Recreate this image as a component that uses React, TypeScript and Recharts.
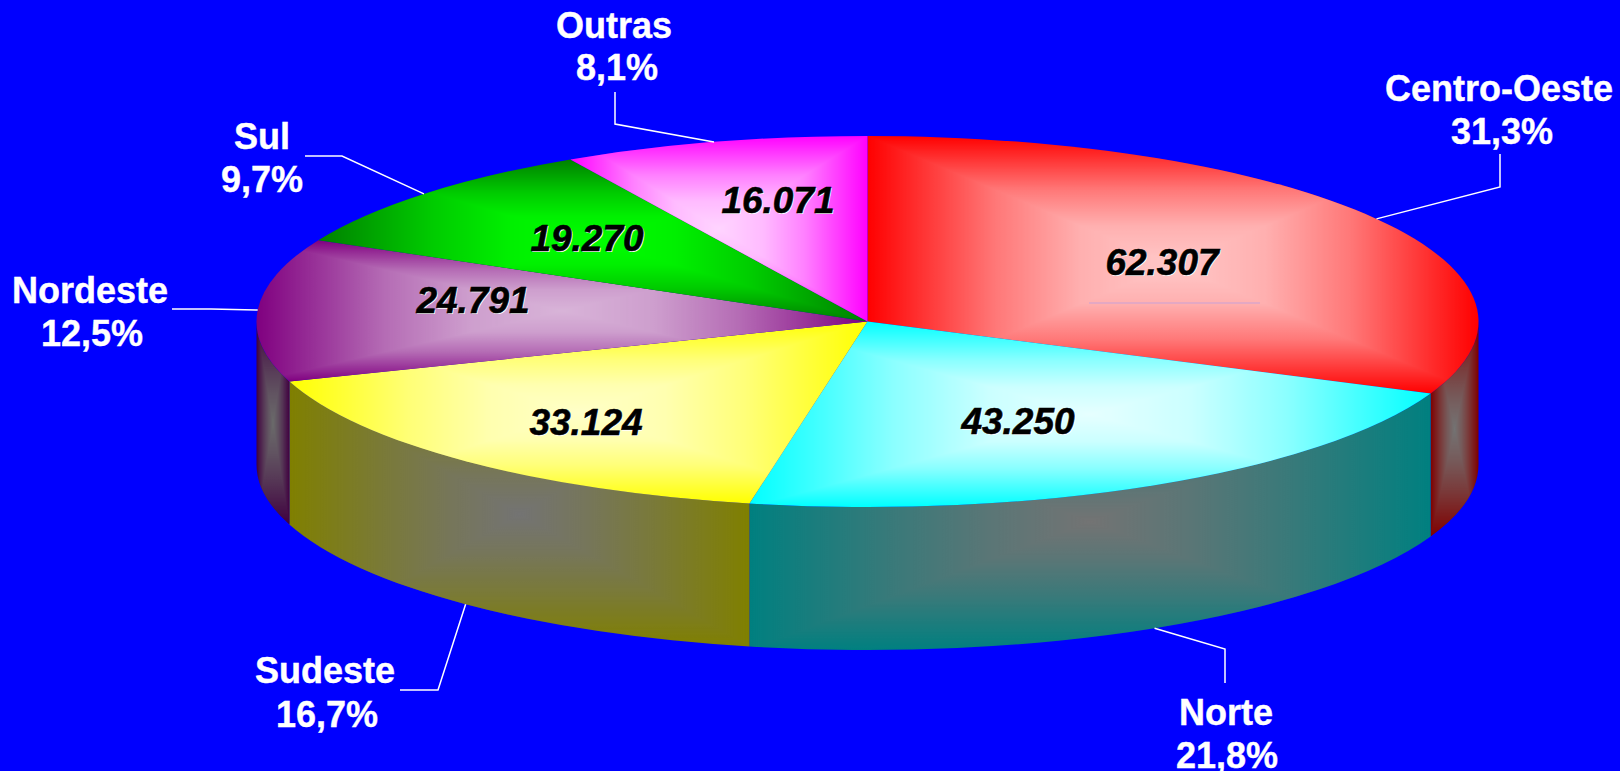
import React from 'react';
import { PieChart, Pie } from 'recharts';

const categories = ['Centro-Oeste', 'Norte', 'Sudeste', 'Nordeste', 'Sul', 'Outras'];
const values = [62307, 43250, 33124, 24791, 19270, 16071];

const topEdge = ['#ff0000', '#00ffff', '#ffff00', '#800080', '#008000', '#ff00ff'];
const topCenter = ['#ffc8c8', '#e6ffff', '#ffffc8', '#d8b4d8', '#00ff00', '#ffd4ff'];
const wallEdge = ['#800000', '#008080', '#808000', '#400040', '#004000', '#800080'];
const wallCenter = ['#737373', '#737373', '#737373', '#6a6a6a', '#737373', '#737373'];

// where the texts and the elbows of the leader lines sit on the slide
const callouts: Record<string, any> = {
    'Centro-Oeste': { value: [1162, 262], label: [1499, 101], percent: [1502, 144], line: [[1500, 187], [1500, 154]], rule: [1089, 1260, 303] },
    Norte: { value: [1018, 421], label: [1226, 725], percent: [1227, 768], line: [[1225, 649], [1225, 683]] },
    Sudeste: { value: [586, 422], label: [325, 683], percent: [327, 727], line: [[438, 690], [400, 690]] },
    Nordeste: { value: [473, 300], label: [90, 303], percent: [92, 346], line: [[211, 309], [172, 309]] },
    Sul: { value: [587, 238], label: [262, 149], percent: [262, 192], line: [[342, 156], [305, 156]] },
    Outras: { value: [778, 200], label: [614, 38], percent: [617, 80], line: [[615, 124], [615, 92]] },
};

// how fast a slice goes from its edge colour to its centre colour
const fadeOffsets = [0, 0.42, 0.7, 1];
const topFade = [0, 0.6, 0.88, 1];
const wallFade = [0, 0.5, 0.78, 1];

const WIDTH = 1620;
const HEIGHT = 771;
const CX = 867.5;
const CY = 321.5;
const RX = 611;
const RY = 185.5;
const DEPTH = 143;
const RAD = Math.PI / 180;

const sliceData = categories.map((name, i) => ({
    name,
    value: values[i],
    topEdge: topEdge[i],
    topCenter: topCenter[i],
    wallEdge: wallEdge[i],
    wallCenter: wallCenter[i],
}));

const ell = (cx: number, cy: number, rx: number, angle: number) => {
    const ry = (rx * RY) / RX;
    return [cx + rx * Math.cos(angle * RAD), cy - ry * Math.sin(angle * RAD)];
};

const FadeStops = ({ fade }: { fade: number[] }) => (
    <>
        {fadeOffsets.map((o, i) => (
            <stop key={o} offset={o} stopColor="#fff" stopOpacity={fade[i]} />
        ))}
    </>
);

// a gradient that falls off towards the four sides of the bounding box
const PathGradient = ({ id, fade }: { id: string; fade: number[] }) => (
    <defs>
        <linearGradient id={`${id}-down`} x1="0" y1="0" x2="0" y2="1"><FadeStops fade={fade} /></linearGradient>
        <linearGradient id={`${id}-up`} x1="0" y1="1" x2="0" y2="0"><FadeStops fade={fade} /></linearGradient>
        <linearGradient id={`${id}-right`} x1="0" y1="0" x2="1" y2="0"><FadeStops fade={fade} /></linearGradient>
        <linearGradient id={`${id}-left`} x1="1" y1="0" x2="0" y2="0"><FadeStops fade={fade} /></linearGradient>
        <mask id={id} maskContentUnits="objectBoundingBox" x="0" y="0" width="1" height="1">
            <g shapeRendering="crispEdges">
                <polygon points="0,0 1,0 0.5,0.5" fill={`url(#${id}-down)`} />
                <polygon points="0,1 1,1 0.5,0.5" fill={`url(#${id}-up)`} />
                <polygon points="0,0 0,1 0.5,0.5" fill={`url(#${id}-right)`} />
                <polygon points="1,0 1,1 0.5,0.5" fill={`url(#${id}-left)`} />
            </g>
        </mask>
    </defs>
);

const TopSlice = (props: any) => {
    const { cx, cy, outerRadius, startAngle, endAngle, payload } = props;
    const ry = (outerRadius * RY) / RX;
    const [x0, y0] = ell(cx, cy, outerRadius, startAngle);
    const [x1, y1] = ell(cx, cy, outerRadius, endAngle);
    const large = Math.abs(startAngle - endAngle) > 180 ? 1 : 0;
    const d = `M${cx},${cy} L${x0},${y0} A${outerRadius},${ry} 0 ${large} 1 ${x1},${y1} Z`;
    const id = `top-${categories.indexOf(payload.name)}`;
    return (
        <g>
            <PathGradient id={id} fade={topFade} />
            <path d={d} fill={payload.topEdge} />
            <path d={d} fill={payload.topCenter} mask={`url(#${id})`} />
        </g>
    );
};

const WallSlice = (props: any) => {
    const { cx, cy, outerRadius, startAngle, endAngle, payload } = props;
    // only the front half of the rim can be seen
    const a0 = Math.min(startAngle, 0);
    const a1 = Math.max(endAngle, -180);
    if (a0 <= a1) return <g />;
    const ry = (outerRadius * RY) / RX;
    const [x0, y0] = ell(cx, cy, outerRadius, a0);
    const [x1, y1] = ell(cx, cy, outerRadius, a1);
    const d =
        `M${x0},${y0} A${outerRadius},${ry} 0 0 1 ${x1},${y1} L${x1},${y1 + DEPTH} ` +
        `A${outerRadius},${ry} 0 0 0 ${x0},${y0 + DEPTH} Z`;
    const id = `wall-${categories.indexOf(payload.name)}`;
    return (
        <g>
            <PathGradient id={id} fade={wallFade} />
            <path d={d} fill={payload.wallEdge} />
            <path d={d} fill={payload.wallCenter} mask={`url(#${id})`} />
        </g>
    );
};

const formatValue = (v: number) => String(v).replace(/\B(?=(\d{3})+$)/g, '.');

const SliceLabel = (props: any) => {
    const { midAngle, name, value, percent } = props;
    const c = callouts[name];
    // the leader starts on the rim, at the bottom of the wall on the front half
    const [ax, ayTop] = ell(CX, CY, RX, midAngle);
    const ay = Math.sin(midAngle * RAD) < -0.1 ? ayTop + DEPTH : ayTop;
    const points = [[ax, ay], ...c.line].map((p: number[]) => p.join(',')).join(' ');
    const pct = `${(percent * 100).toFixed(1).replace('.', ',')}%`;
    const nameStyle = { fontFamily: '"Liberation Sans", Arial, sans-serif', fontWeight: 700, fontSize: 36 };
    const valueStyle = { ...nameStyle, fontStyle: 'italic', fontSize: 37 };
    return (
        <g>
            <polyline points={points} fill="none" stroke="#fff" strokeWidth={1.5} />
            {c.rule && <line x1={c.rule[0]} x2={c.rule[1]} y1={c.rule[2]} y2={c.rule[2]} stroke="#c9a0d6" strokeWidth={1} />}
            <text x={c.label[0]} y={c.label[1]} textAnchor="middle" fill="#fff" stroke="#fff" strokeWidth={0.4} style={nameStyle}>{name}</text>
            <text x={c.percent[0]} y={c.percent[1]} textAnchor="middle" fill="#fff" stroke="#fff" strokeWidth={0.4} style={nameStyle}>{pct}</text>
            <text x={c.value[0] + 1} y={c.value[1] + 14} textAnchor="middle" fill="#fff" style={valueStyle}>{formatValue(value)}</text>
            <text x={c.value[0]} y={c.value[1] + 13} textAnchor="middle" fill="#000" stroke="#000" strokeWidth={0.6} style={valueStyle}>{formatValue(value)}</text>
        </g>
    );
};

export default function App() {
    return (
        <div style={{ position: 'absolute', left: 0, top: 0, width: WIDTH, height: HEIGHT, background: '#0000ff', overflow: 'hidden' }}>
            <PieChart width={WIDTH} height={HEIGHT} margin={{ top: 0, right: 0, bottom: 0, left: 0 }}>
                <Pie
                    data={sliceData}
                    dataKey="value"
                    nameKey="name"
                    cx={CX}
                    cy={CY}
                    outerRadius={RX}
                    startAngle={90}
                    endAngle={-270}
                    stroke="none"
                    shape={WallSlice}
                    isAnimationActive={false}
                />
                <Pie
                    data={sliceData}
                    dataKey="value"
                    nameKey="name"
                    cx={CX}
                    cy={CY}
                    outerRadius={RX}
                    startAngle={90}
                    endAngle={-270}
                    stroke="none"
                    shape={TopSlice}
                    label={SliceLabel}
                    labelLine={false}
                    isAnimationActive={false}
                />
            </PieChart>
        </div>
    );
}
